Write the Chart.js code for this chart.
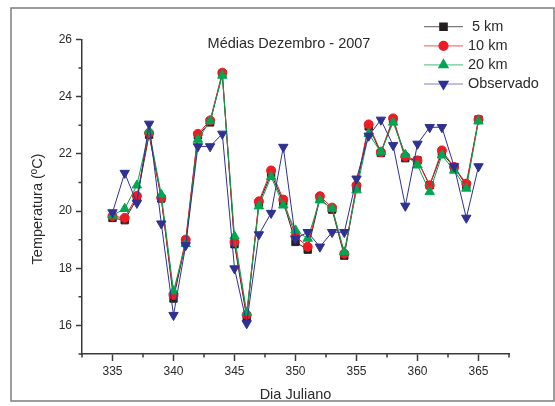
<!DOCTYPE html>
<html>
<head>
<meta charset="utf-8">
<script src="https://cdn.jsdelivr.net/npm/chart.js@4.4.1/dist/chart.umd.min.js"></script>
<style>
  html, body { margin: 0; padding: 0; background: #fff; }
  #wrap { position: relative; width: 555px; height: 406px; }
</style>
</head>
<body>
<div id="wrap"><canvas id="chart" width="555" height="406"></canvas></div>
<script>
// Julian days, December 2007
const days = [335, 336, 337, 338, 339, 340, 341, 342, 343, 344, 345, 346, 347, 348, 349, 350,
              351, 352, 353, 354, 355, 356, 357, 358, 359, 360, 361, 362, 363, 364, 365];

// Daily mean temperature (ºC) per model resolution and observed
const temp5km = [19.76, 19.68, 20.44, 22.67, 20.44, 16.94, 18.90, 22.65, 23.10, 24.80, 18.84, 16.27, 20.28, 21.30, 20.32, 18.92,
                 18.65, 20.44, 20.05, 18.44, 20.84, 22.96, 22.03, 23.20, 21.85, 21.77, 20.90, 22.03, 21.54, 20.90, 23.20];
const temp10km = [19.82, 19.76, 20.53, 22.73, 20.46, 17.06, 19.00, 22.70, 23.17, 24.84, 18.92, 16.37, 20.34, 21.42, 20.40, 19.12,
                  18.75, 20.52, 20.12, 18.51, 20.90, 23.03, 22.06, 23.24, 21.91, 21.77, 20.90, 22.12, 21.54, 20.96, 23.20];
const temp20km = [19.85, 20.08, 20.90, 22.80, 20.57, 17.20, 18.85, 22.50, 23.15, 24.74, 19.12, 16.45, 20.17, 21.20, 20.20, 19.33,
                  19.04, 20.38, 20.09, 18.57, 20.73, 22.70, 22.06, 23.10, 21.97, 21.60, 20.67, 21.95, 21.42, 20.79, 23.14];
const observed = [19.95, 21.33, 20.28, 23.05, 19.56, 16.36, 18.80, 22.26, 22.26, 22.70, 17.99, 16.07, 19.18, 19.93, 22.24, 19.03,
                  19.26, 18.75, 19.26, 19.26, 21.13, 22.63, 23.19, 22.30, 20.18, 22.35, 22.93, 22.93, 21.56, 19.76, 21.56];

// Labelled ticks; the ticks in between stay short and unlabelled
const xTickLabels = [335, 340, 345, 350, 355, 360, 365];
const yTickLabels = [16, 18, 20, 22, 24, 26];

const seriesNames = ['5 km', '10 km', '20 km', 'Observado'];

const FONT = "'Liberation Sans', Arial, sans-serif";
const TEXT = '#2b2b2b';
const AXIS = '#3a3a3a';

function toPoints(values) {
    return days.map((d, i) => ({ x: d, y: values[i] }));
}

function series(label, values, color, style, radius, rotation, order) {
    return {
        label,
        data: toPoints(values),
        borderColor: color,
        backgroundColor: color,
        borderWidth: 1,
        pointStyle: style,
        pointRadius: radius,
        pointRotation: rotation,
        pointBackgroundColor: color,
        pointBorderColor: color,
        pointBorderWidth: 1,
        tension: 0,
        order
    };
}

// Page frame, short minor ticks, title, y-axis title and legend
const decorations = {
    id: 'decorations',
    beforeDraw(chart) {
        const c = chart.ctx;
        c.save();
        c.fillStyle = '#fff';
        c.fillRect(0, 0, chart.width, chart.height);
        c.strokeStyle = '#7d7d7d';
        c.lineWidth = 1.5;
        c.strokeRect(11, 8, 543, 393);
        c.restore();
    },
    afterDraw(chart) {
        const c = chart.ctx;
        const { x, y } = chart.scales;
        c.save();
        c.strokeStyle = AXIS;
        c.lineWidth = 1.5;
        c.beginPath();
        x.ticks.forEach(t => {
            if (xTickLabels.includes(t.value)) return;
            const px = x.getPixelForValue(t.value);
            c.moveTo(px, x.top);
            c.lineTo(px, x.top + 3.5);
        });
        y.ticks.forEach(t => {
            if (yTickLabels.includes(t.value)) return;
            const py = y.getPixelForValue(t.value);
            c.moveTo(y.right, py);
            c.lineTo(y.right - 3.5, py);
        });
        c.stroke();

        c.fillStyle = TEXT;
        c.font = `14.5px ${FONT}`;
        c.textAlign = 'center';
        c.textBaseline = 'middle';
        c.fillText('Médias Dezembro - 2007', 289, 44);

        c.save();
        c.translate(38, 209);
        c.rotate(-Math.PI / 2);
        c.fillText('Temperatura (ºC)', 0, 0);
        c.restore();

        // legend: faint line segment with marker, then the series name
        c.textAlign = 'left';
        chart.data.datasets.forEach((ds, i) => {
            const ly = 26.7 + i * 19.1;
            c.globalAlpha = 0.6;
            c.strokeStyle = ds.borderColor;
            c.lineWidth = 1.2;
            c.beginPath();
            c.moveTo(424, ly);
            c.lineTo(463, ly);
            c.stroke();
            c.globalAlpha = 1;
            c.fillStyle = ds.pointBackgroundColor;
            c.strokeStyle = ds.pointBorderColor;
            Chart.helpers.drawPoint(c, {
                pointStyle: ds.pointStyle,
                rotation: ds.pointRotation,
                radius: ds.pointRadius,
                borderWidth: 1
            }, 443.5, ly);
            c.fillStyle = TEXT;
            c.fillText(ds.label, i === 0 ? 472 : 468, ly);
        });
        c.restore();
    }
};

const ctx = document.getElementById('chart').getContext('2d');
const chart = new Chart(ctx, {
    type: 'line',
    data: {
        datasets: [
            series(seriesNames[0], temp5km, '#231f20', 'rect', 5.2, 0, 3),
            series(seriesNames[1], temp10km, '#ed1c24', 'circle', 4.5, 0, 2),
            series(seriesNames[2], temp20km, '#00a651', 'triangle', 5.4, 0, 1),
            series(seriesNames[3], observed, '#2e3192', 'triangle', 5.4, 180, 0)
        ]
    },
    options: {
        responsive: false,
        animation: false,
        layout: { padding: { top: 39.5, right: 46, bottom: 0, left: 0 } },
        plugins: {
            legend: { display: false },
            tooltip: { enabled: false }
        },
        scales: {
            x: {
                type: 'linear',
                min: 332.5,
                max: 367.5,
                afterFit: s => { s.height = 52; },
                border: { display: true, color: AXIS, width: 1.5 },
                grid: {
                    drawOnChartArea: false,
                    drawTicks: true,
                    tickLength: 7,
                    tickWidth: 1.5,
                    tickColor: c => xTickLabels.includes(c.tick.value) ? AXIS : 'rgba(0,0,0,0)'
                },
                ticks: {
                    stepSize: 2.5,
                    padding: 3,
                    autoSkip: false,
                    maxRotation: 0,
                    color: TEXT,
                    font: { family: FONT, size: 12 },
                    callback: v => xTickLabels.includes(v) ? String(v) : ''
                },
                title: {
                    display: true,
                    text: 'Dia Juliano',
                    color: TEXT,
                    font: { family: FONT, size: 14.5 },
                    padding: { top: 0, bottom: 2.5 }
                }
            },
            y: {
                type: 'linear',
                min: 15,
                max: 26,
                afterFit: s => { s.width = 82; },
                border: { display: true, color: AXIS, width: 1.5 },
                grid: {
                    drawOnChartArea: false,
                    drawTicks: true,
                    tickLength: 6,
                    tickWidth: 1.5,
                    tickColor: c => yTickLabels.includes(c.tick.value) ? AXIS : 'rgba(0,0,0,0)'
                },
                ticks: {
                    stepSize: 1,
                    padding: 4,
                    autoSkip: false,
                    color: TEXT,
                    font: { family: FONT, size: 12 },
                    callback: v => yTickLabels.includes(v) ? String(v) : ''
                }
            }
        }
    },
    plugins: [decorations]
});
</script>
</body>
</html>
